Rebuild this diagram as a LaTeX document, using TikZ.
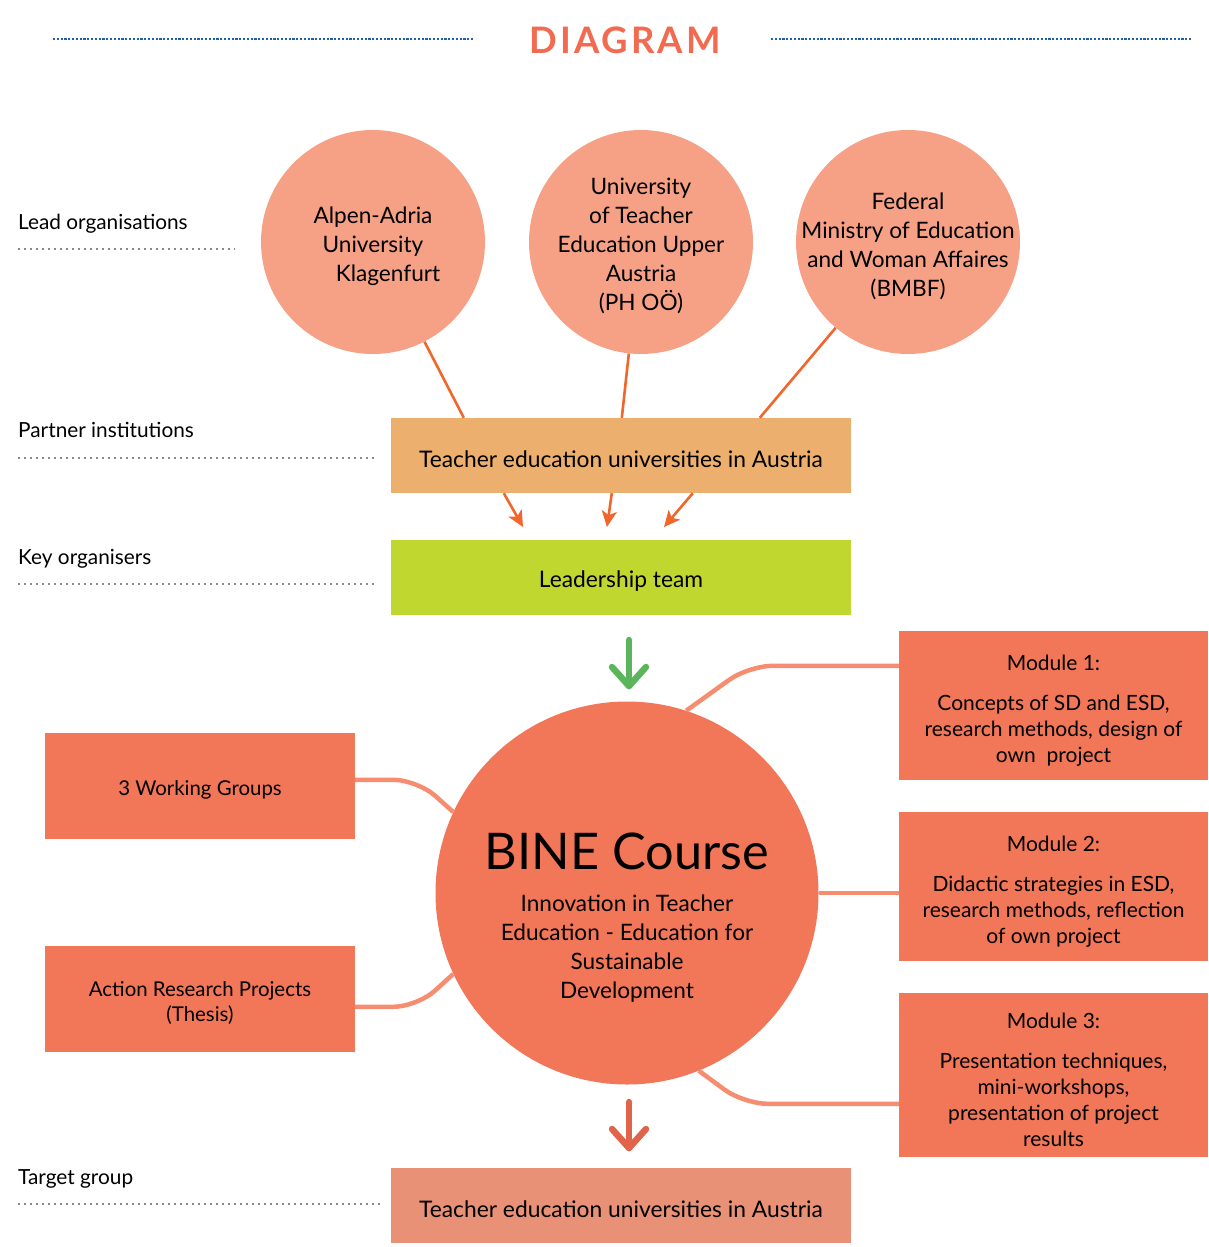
\documentclass[tikz,border=0pt]{standalone}
\usepackage{fontspec}
\setmainfont{Lato}
\newfontfamily\titlefont{Lato}[LetterSpace=8.5]
\usetikzlibrary{calc,arrows.meta}
\definecolor{toporg}{HTML}{F6A085}
\definecolor{partnerc}{HTML}{EDAF6D}
\definecolor{leadc}{HTML}{C0D72F}
\definecolor{binec}{HTML}{F27658}
\definecolor{connc}{HTML}{F68D70}
\definecolor{targetc}{HTML}{E99176}
\definecolor{linec}{HTML}{F0662B}
\definecolor{titlec}{HTML}{F26A4F}
\definecolor{bluedot}{HTML}{1F5FAD}
\definecolor{graydot}{HTML}{8A8A8A}
\definecolor{greenarr}{HTML}{5BB55A}
\definecolor{redarr}{HTML}{E0634A}
\tikzset{
  lvl/.style={anchor=base west, font=\fontsize{20.8}{24}\selectfont, inner sep=0pt},
  lvlline/.style={graydot, line width=2.4pt, dash pattern=on 2.4pt off 3.6pt},
  topcirc/.style={circle, fill=toporg, minimum size=224pt, inner sep=0pt},
  circtext/.style={inner sep=0pt, align=center, font=\fontsize{22.6}{29}\selectfont},
  widebox/.style={rectangle, minimum width=460pt, minimum height=75pt, inner sep=0pt},
  widetext/.style={inner sep=0pt, font=\fontsize{22.8}{26}\selectfont},
  sidebox/.style={rectangle, fill=binec, minimum width=310pt, minimum height=106pt, inner sep=0pt},
  sidetext/.style={inner sep=0pt, align=center, font=\fontsize{20.4}{25}\selectfont},
  modbox/.style={rectangle, fill=binec, minimum width=309pt, inner sep=0pt},
  modtext/.style={inner sep=0pt, align=center, font=\fontsize{21}{26}\selectfont},
  feed/.style={linec, line width=2.6pt},
  feedarr/.style={linec, line width=2.6pt, -{Stealth[length=16pt,width=15pt,inset=4pt]}},
  conn/.style={connc, line width=4.5pt, rounded corners=24pt},
  bigarr/.style={line width=6.5pt, line cap=round, line join=round},
}
\begin{document}
\begin{tikzpicture}[x=1pt,y=-1pt]
\useasboundingbox (0,0) rectangle (1208,1247);
% title
\draw[bluedot, line width=2.6pt, dash pattern=on 2.2pt off 1.6pt] (53,39) -- (473,39);
\draw[bluedot, line width=2.6pt, dash pattern=on 2.2pt off 1.6pt] (771,39) -- (1192,39);
\node[text=titlec, font=\titlefont\bfseries\fontsize{36.5}{40}\selectfont, inner sep=0pt] (title) at (625,40) {DIAGRAM};
% level labels
\node[lvl] (l1) at (18,229) {Lead organisations};
\draw[lvlline] (18,249) -- (235,249);
\node[lvl] (l2) at (18,437) {Partner institutions};
\draw[lvlline] (18,458) -- (376,458);
\node[lvl] (l3) at (18,564) {Key organisers};
\draw[lvlline] (18,584) -- (376,584);
\node[lvl] (l4) at (18,1184) {Target group};
\draw[lvlline] (18,1204) -- (381,1204);
% top circles
\node[topcirc] (c1) at (373,242) {};
\node[topcirc] (c2) at (641,242) {};
\node[topcirc] (c3) at (908,242) {};
\node[circtext] (c1t) at ($(c1)+(0,4)$) {Alpen-Adria\\University\\\hspace*{30pt}Klagenfurt};
\node[circtext] (c2t) at ($(c2)+(0,4)$) {University\\of Teacher\\Education Upper\\Austria\\(PH OÖ)};
\node[circtext] (c3t) at ($(c3)+(0,4)$) {Federal\\Ministry of Education\\and Woman Affaires\\(BMBF)};
% partner & leadership
\node[widebox, fill=partnerc] (partner) at (621,455.5) {};
\node[widetext] (partnert) at ($(partner)+(0,4)$) {Teacher education universities in Austria};
\node[widebox, fill=leadc] (lead) at (621,577.5) {};
\node[widetext] (leadt) at ($(lead)+(0,4)$) {Leadership team};
\coordinate (p1) at ($(partner.north west)+(73,0)$);
\coordinate (p2) at ($(partner.north west)+(231,0)$);
\coordinate (p3) at ($(partner.north west)+(369,0)$);
\draw[feed] (c1) -- (p1);
\draw[feed] (c2) -- (p2);
\draw[feed] (c3) -- (p3);
\coordinate (q1) at ($(partner.south west)+(113,0)$);
\coordinate (q2) at ($(partner.south west)+(221,0)$);
\coordinate (q3) at ($(partner.south west)+(302,0)$);
\coordinate (r1) at (523,527);
\coordinate (r2) at (607,527);
\coordinate (r3) at (664,527);
\draw[feedarr] (q1) -- (r1);
\draw[feedarr] (q2) -- (r2);
\draw[feedarr] (q3) -- (r3);
% BINE circle
\node[circle, fill=binec, minimum size=383pt, inner sep=0pt] (bine) at (627,893) {};
\node[inner sep=0pt, font=\fontsize{50.5}{56}\selectfont] (binet) at (627,851) {BINE Course};
\node[inner sep=0pt, align=center, font=\fontsize{22.6}{29}\selectfont] (bines) at (627,949) {Innovation in Teacher\\Education - Education for\\Sustainable\\Development};
% green arrow
\coordinate (g1) at (629,640);
\coordinate (g2) at (629,686);
\draw[bigarr, greenarr] (g1) -- (g2);
\draw[bigarr, greenarr] ($(g2)+(-17,-19)$) -- (g2) -- ($(g2)+(17,-19)$);
% side boxes
\node[sidebox] (wg) at (200,786) {};
\node[sidetext] (wgt) at ($(wg)+(0,4)$) {3 Working Groups};
\node[sidebox] (ar) at (200,999) {};
\node[sidetext] (art) at ($(ar)+(0,4)$) {Action Research Projects\\(Thesis)};
\node[modbox, minimum height=149pt] (m1) at (1053.5,705.5) {};
\node[modtext] (m1t) at ($(m1)+(0,5)$) {Module 1:\\[14pt]Concepts of SD and ESD,\\research methods, design of\\own\ \ project};
\node[modbox, minimum height=149pt] (m2) at (1053.5,886.5) {};
\node[modtext] (m2t) at ($(m2)+(0,5)$) {Module 2:\\[14pt]Didactic strategies in ESD,\\research methods, reflection\\of own project};
\node[modbox, minimum height=164pt] (m3) at (1053.5,1075) {};
\node[modtext] (m3t) at ($(m3)+(0,5)$) {Module 3:\\[14pt]Presentation techniques,\\mini-workshops,\\presentation of project\\results};
% connectors
\draw[conn] ($(wg.north east)+(0,47)$) -- ($(wg.north east)+(62,47)$) -- (bine.155);
\draw[conn] ($(ar.north east)+(0,61)$) -- ($(ar.north east)+(62,61)$) -- (bine.205);
\draw[conn] ($(m1.north west)+(0,35)$) -- ($(m1.north west)+(-150,35)$) -- (bine.72);
\draw[connc, line width=4.5pt] (bine.east) -- (m2.west |- bine.east);
\draw[conn] ($(m3.north west)+(0,111)$) -- ($(m3.north west)+(-155,111)$) -- (bine.-68);
% red arrow
\coordinate (h1) at (629,1102);
\coordinate (h2) at (629,1148);
\draw[bigarr, redarr] (h1) -- (h2);
\draw[bigarr, redarr] ($(h2)+(-17,-19)$) -- (h2) -- ($(h2)+(17,-19)$);
% target
\node[widebox, fill=targetc] (target) at (621,1205.5) {};
\node[widetext] (targett) at ($(target)+(0,4)$) {Teacher education universities in Austria};
\end{tikzpicture}
\end{document}
